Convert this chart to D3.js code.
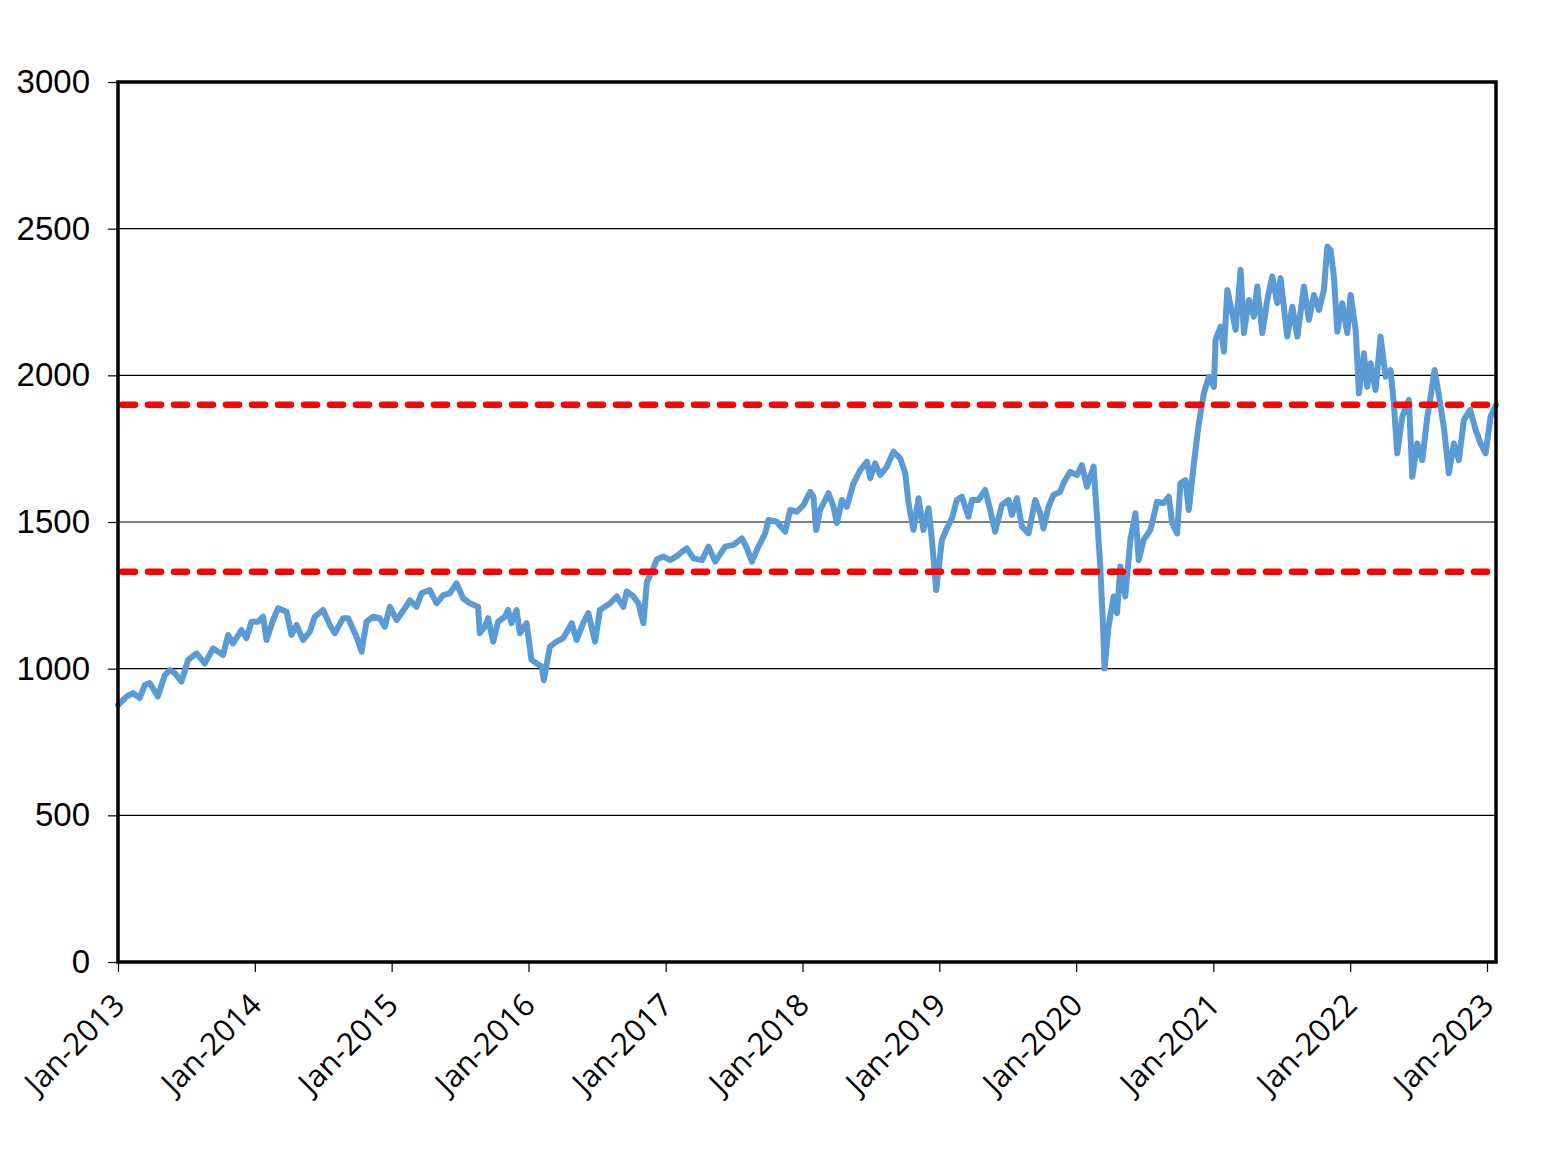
<!DOCTYPE html>
<html>
<head>
<meta charset="utf-8">
<script src="https://cdn.jsdelivr.net/npm/d3@7"></script>
<style>
  html, body { margin: 0; padding: 0; background: #ffffff; }
  svg { display: block; }
</style>
</head>
<body>
<svg id="chart" width="1547" height="1153"></svg>
<script>
// ---- Data ----
// time as fractional years
const years = [
  2013.000, 2013.062, 2013.108, 2013.159, 2013.196, 2013.232, 2013.291, 2013.342, 2013.379, 2013.415,
  2013.464, 2013.512, 2013.574, 2013.634, 2013.695, 2013.768, 2013.805, 2013.841, 2013.903, 2013.939,
  2013.976, 2014.024, 2014.061, 2014.085, 2014.134, 2014.170, 2014.232, 2014.268, 2014.305, 2014.353,
  2014.402, 2014.438, 2014.499, 2014.548, 2014.585, 2014.645, 2014.682, 2014.743, 2014.780, 2014.816,
  2014.864, 2014.913, 2014.950, 2014.987, 2015.036, 2015.084, 2015.120, 2015.133, 2015.182, 2015.218,
  2015.279, 2015.328, 2015.376, 2015.425, 2015.474, 2015.522, 2015.571, 2015.632, 2015.644, 2015.681,
  2015.705, 2015.742, 2015.778, 2015.827, 2015.851, 2015.876, 2015.913, 2015.937, 2015.986, 2016.022,
  2016.059, 2016.095, 2016.112, 2016.156, 2016.205, 2016.253, 2016.315, 2016.351, 2016.399, 2016.436,
  2016.485, 2016.521, 2016.595, 2016.643, 2016.692, 2016.716, 2016.765, 2016.801, 2016.838, 2016.863,
  2016.899, 2016.936, 2016.984, 2017.033, 2017.094, 2017.119, 2017.155, 2017.203, 2017.265, 2017.313,
  2017.362, 2017.435, 2017.496, 2017.557, 2017.594, 2017.630, 2017.678, 2017.727, 2017.751, 2017.812,
  2017.873, 2017.910, 2017.959, 2018.007, 2018.056, 2018.080, 2018.100, 2018.129, 2018.190, 2018.227,
  2018.251, 2018.288, 2018.324, 2018.373, 2018.422, 2018.471, 2018.495, 2018.531, 2018.568, 2018.617,
  2018.665, 2018.714, 2018.751, 2018.775, 2018.811, 2018.848, 2018.884, 2018.921, 2018.946, 2018.977,
  2019.019, 2019.055, 2019.092, 2019.128, 2019.165, 2019.213, 2019.238, 2019.286, 2019.335, 2019.372,
  2019.408, 2019.457, 2019.506, 2019.530, 2019.567, 2019.604, 2019.652, 2019.701, 2019.737, 2019.761,
  2019.798, 2019.834, 2019.883, 2019.907, 2019.956, 2020.006, 2020.042, 2020.079, 2020.127, 2020.152,
  2020.176, 2020.196, 2020.207, 2020.236, 2020.273, 2020.298, 2020.322, 2020.358, 2020.395, 2020.432,
  2020.456, 2020.492, 2020.541, 2020.590, 2020.638, 2020.675, 2020.700, 2020.736, 2020.760, 2020.797,
  2020.821, 2020.858, 2020.894, 2020.931, 2020.967, 2021.004, 2021.016, 2021.053, 2021.077, 2021.102,
  2021.138, 2021.163, 2021.199, 2021.223, 2021.260, 2021.296, 2021.321, 2021.358, 2021.394, 2021.431,
  2021.467, 2021.491, 2021.540, 2021.577, 2021.614, 2021.662, 2021.698, 2021.735, 2021.772, 2021.808,
  2021.833, 2021.857, 2021.881, 2021.906, 2021.942, 2021.979, 2022.003, 2022.040, 2022.064, 2022.100,
  2022.125, 2022.149, 2022.186, 2022.222, 2022.259, 2022.295, 2022.319, 2022.344, 2022.381, 2022.429,
  2022.454, 2022.490, 2022.527, 2022.564, 2022.588, 2022.617, 2022.650, 2022.687, 2022.721, 2022.758,
  2022.794, 2022.831, 2022.877, 2022.917, 2022.953, 2022.990, 2023.026, 2023.066
];
const values = [
   876,  905,  917,  900,  944,  951,  905,  978,  995,  985,
   956, 1030, 1052, 1018, 1069, 1047, 1115, 1086, 1132, 1104,
  1160, 1160, 1177, 1098, 1166, 1206, 1194, 1115, 1149, 1098,
  1126, 1177, 1200, 1149, 1121, 1172, 1172, 1109, 1058, 1160,
  1177, 1172, 1143, 1211, 1166, 1197, 1223, 1234, 1211, 1257,
  1268, 1223, 1251, 1257, 1291, 1240, 1223, 1211, 1121, 1143,
  1172, 1092, 1160, 1177, 1200, 1155, 1200, 1121, 1155, 1030,
  1018, 1007,  961, 1075, 1092, 1104, 1155, 1098, 1155, 1189,
  1092, 1200, 1223, 1246, 1211, 1263, 1246, 1223, 1155, 1296,
  1330, 1373, 1382, 1370, 1388, 1399, 1410, 1376, 1370, 1416,
  1365, 1416, 1422, 1444, 1410, 1365, 1416, 1461, 1507, 1501,
  1467, 1541, 1535, 1558, 1603, 1586, 1473, 1541, 1598, 1552,
  1496, 1575, 1552, 1632, 1677, 1706, 1649, 1700, 1660, 1689,
  1740, 1717, 1666, 1564, 1473, 1581, 1473, 1547, 1439, 1268,
  1439, 1478, 1512, 1575, 1586, 1518, 1575, 1575, 1609, 1541,
  1467, 1558, 1575, 1524, 1581, 1484, 1461, 1575, 1530, 1478,
  1552, 1592, 1603, 1632, 1671, 1660, 1694, 1620, 1689, 1518,
  1348, 1143, 1001, 1143, 1246, 1189, 1348, 1246, 1439, 1530,
  1370, 1439, 1473, 1569, 1564, 1586, 1496, 1461, 1632, 1643,
  1541, 1700, 1836, 1939, 1995, 1961, 2121, 2166, 2081, 2291,
  2212, 2155, 2359, 2144, 2257, 2200, 2303, 2144, 2257, 2337,
  2246, 2331, 2132, 2234, 2132, 2303, 2189, 2274, 2223, 2291,
  2439, 2427, 2337, 2149, 2246, 2144, 2274, 2155, 1939, 2075,
  1961, 2041, 1950, 2132, 1995, 2018, 1904, 1734, 1859, 1916,
  1654, 1768, 1711, 1859, 1927, 2018, 1927, 1814, 1666, 1768,
  1711, 1848, 1882, 1814, 1768, 1734, 1859, 1899
];
const refLevels = [1900, 1330];
const yTicks = [0, 500, 1000, 1500, 2000, 2500, 3000];
const xTickYears = [2013, 2014, 2015, 2016, 2017, 2018, 2019, 2020, 2021, 2022, 2023];
const xTickLabels = ["Jan-2013", "Jan-2014", "Jan-2015", "Jan-2016", "Jan-2017", "Jan-2018",
                     "Jan-2019", "Jan-2020", "Jan-2021", "Jan-2022", "Jan-2023"];

// ---- Helpers ----
function fracYearToDate(f) {
  const yr = Math.floor(f);
  const s = new Date(yr, 0, 1), e = new Date(yr + 1, 0, 1);
  return new Date(+s + (f - yr) * (e - s));
}
const series = years.map((f, i) => ({ date: fracYearToDate(f), value: values[i] }));

// ---- Layout ----
const L = 118, R = 1496, T = 82, B = 962;
const svg = d3.select("#chart");
svg.append("rect").attr("width", 1547).attr("height", 1153).attr("fill", "#ffffff");

const x = d3.scaleTime()
  .domain([new Date(2013, 0, 1), new Date(2023, 0, 25)])
  .range([L, R]);
const y = d3.scaleLinear().domain([0, 3000]).range([B, T]);

// gridlines
svg.append("g")
  .selectAll("line")
  .data(yTicks.filter(v => v > 0 && v < 3000))
  .join("line")
  .attr("x1", L).attr("x2", R)
  .attr("y1", d => y(d)).attr("y2", d => y(d))
  .attr("stroke", "#000").attr("stroke-width", 1.2);

// y axis
const yAxis = d3.axisLeft(y).tickValues(yTicks).tickSize(10).tickPadding(18).tickFormat(d3.format("d"));
const gy = svg.append("g").attr("transform", `translate(${L},0)`).call(yAxis);
gy.select(".domain").remove();
gy.selectAll(".tick line").attr("stroke", "#000").attr("stroke-width", 1.2);
gy.selectAll(".tick text")
  .attr("font-family", "'Liberation Sans', Arial, sans-serif")
  .attr("font-size", 33)
  .attr("fill", "#000");

// x axis
const xTickDates = xTickYears.map(yr => new Date(yr, 0, 1));
const xAxis = d3.axisBottom(x).tickValues(xTickDates).tickSize(10)
  .tickFormat((d, i) => xTickLabels[i]);
const gx = svg.append("g").attr("transform", `translate(0,${B})`).call(xAxis);
gx.select(".domain").remove();
gx.selectAll(".tick line").attr("stroke", "#000").attr("stroke-width", 1.2);
gx.selectAll(".tick text")
  .attr("font-family", "'Open Sans', 'Noto Sans', sans-serif")
  .attr("font-size", 31)
  .attr("fill", "#000")
  .attr("text-anchor", "end")
  .attr("dy", null)
  .attr("y", null)
  .attr("transform", "translate(8,45) rotate(-45)");

// data line
const line = d3.line().x(d => x(d.date)).y(d => y(d.value)).curve(d3.curveLinear);
svg.append("path")
  .datum(series)
  .attr("d", line)
  .attr("fill", "none")
  .attr("stroke", "#5B9BD5")
  .attr("stroke-width", 6)
  .attr("stroke-linejoin", "round")
  .attr("stroke-linecap", "round");

// reference dashed lines
svg.append("g")
  .selectAll("line")
  .data(refLevels)
  .join("line")
  .attr("x1", L + 4).attr("x2", R - 2)
  .attr("y1", d => y(d)).attr("y2", d => y(d))
  .attr("stroke", "#FF0000")
  .attr("stroke-width", 6.5)
  .attr("stroke-linecap", "round")
  .attr("stroke-dasharray", "13,13");

// frame
svg.append("rect")
  .attr("x", L).attr("y", T)
  .attr("width", R - L).attr("height", B - T)
  .attr("fill", "none")
  .attr("stroke", "#000")
  .attr("stroke-width", 3.5);
</script>
</body>
</html>
